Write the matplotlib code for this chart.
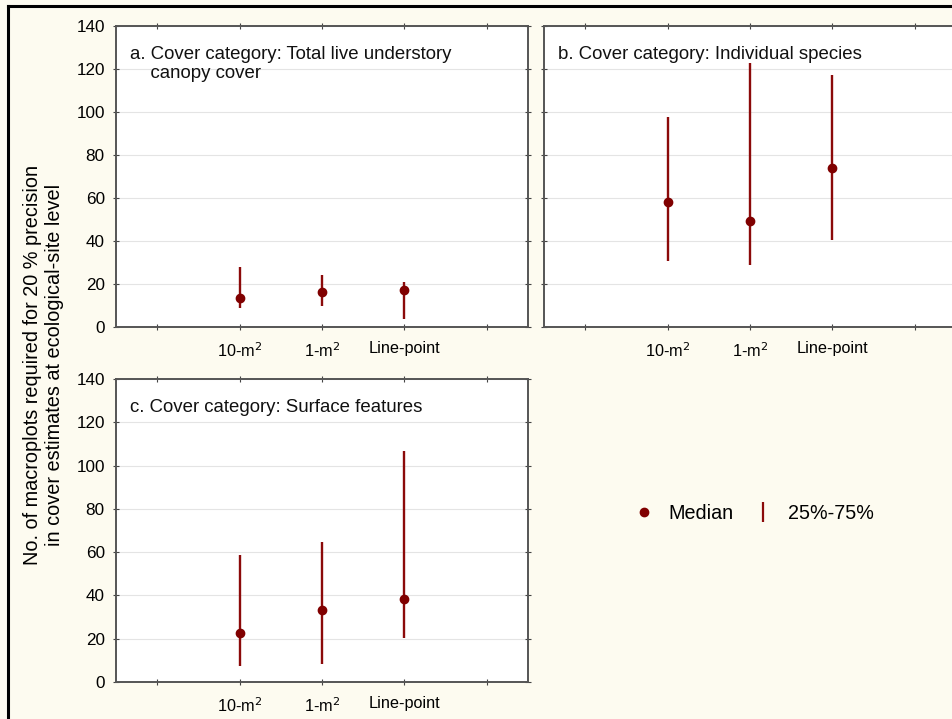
import matplotlib.pyplot as plt
from matplotlib.lines import Line2D

plt.rcParams['font.family'] = ['Liberation Sans', 'DejaVu Sans']

# categorias de tamaño de parcela
categorias = ["10-m$^2$", "1-m$^2$", "Line-point"]

# a. Total live understory canopy cover
mediana_a = [13.3, 16.4, 17.3]
q25_a = [8.8, 9.9, 3.7]
q75_a = [28, 24.1, 21]

# b. Individual species
mediana_b = [58.2, 49.1, 74.1]
q25_b = [30.9, 29, 40.3]
q75_b = [97.7, 122.7, 117.1]

# c. Surface features
mediana_c = [22.6, 33.4, 38.3]
q25_c = [7.5, 8.5, 20.3]
q75_c = [58.8, 64.8, 106.6]

titulos = ["a. Cover category: Total live understory\n    canopy cover",
           "b. Cover category: Individual species",
           "c. Cover category: Surface features"]

rojo = "#8b0a0a"
fondo = "#fdfbf0"

fig = plt.figure(figsize=(9.52, 7.19), dpi=100, facecolor=fondo)

ax_a = fig.add_axes([0.1218, 0.5452, 0.4328, 0.4186])
ax_b = fig.add_axes([0.5714, 0.5452, 0.4328, 0.4186])
ax_c = fig.add_axes([0.1218, 0.0515, 0.4328, 0.4214])

paneles = [(ax_a, mediana_a, q25_a, q75_a),
           (ax_b, mediana_b, q25_b, q75_b),
           (ax_c, mediana_c, q25_c, q75_c)]

for i, (ax, med, lo, hi) in enumerate(paneles):
    xs = list(range(len(categorias)))
    ax.vlines(xs, lo, hi, color=rojo, linewidth=1.7, zorder=3)
    ax.plot(xs, med, "o", color="#800000", markersize=6, zorder=4)
    ax.set_xlim(-1.5, 3.5)
    ax.set_ylim(0, 140)
    ax.set_yticks(range(0, 141, 20))
    ax.set_xticks([-1, 0, 1, 2, 3])
    ax.set_xticklabels([""] + categorias + [""])
    ax.grid(axis="y", color="#e4e4e4", linewidth=0.8)
    ax.set_axisbelow(True)
    ax.tick_params(direction="inout", length=4, top=True, right=True,
                   labelsize=12.3, color="#444444")
    ax.tick_params(axis="x", pad=8)
    ax.tick_params(axis="y", pad=6)
    for lab in ax.get_xticklabels():
        lab.set_fontsize(11.7)
    for s in ax.spines.values():
        s.set_color("#555555")
        s.set_linewidth(1.4)
    ax.text(0.035, 0.935, titulos[i], transform=ax.transAxes,
            fontsize=13.4, va="top", ha="left", color="#111111",
            linespacing=1.2)
    if ax is ax_b:
        ax.tick_params(labelleft=False)

fig.text(0.046, 0.493,
         "No. of macroplots required for 20 % precision\nin cover estimates at ecological-site level",
         rotation=90, ha="center", va="center", fontsize=14.3, linespacing=1.2)

# leyenda
mediana_h = Line2D([], [], marker="o", color="#800000", linestyle="none", markersize=6)
rango_h = Line2D([], [], marker="|", color=rojo, linestyle="none", markersize=15, markeredgewidth=1.6)
fig.legend([mediana_h, rango_h], ["Median", "25%-75%"], ncol=2, frameon=False,
           loc="center", bbox_to_anchor=(0.792, 0.2865), fontsize=14.2,
           handlelength=1.0, handletextpad=0.75, columnspacing=1.0)

# marco negro de la figura
fig.add_artist(Line2D([0.008, 1.0], [0.992, 0.992], color="black", linewidth=2.2))
fig.add_artist(Line2D([0.008, 0.008], [0.0, 0.992], color="black", linewidth=2.2))

plt.savefig("out.png", dpi=100, facecolor=fondo)
